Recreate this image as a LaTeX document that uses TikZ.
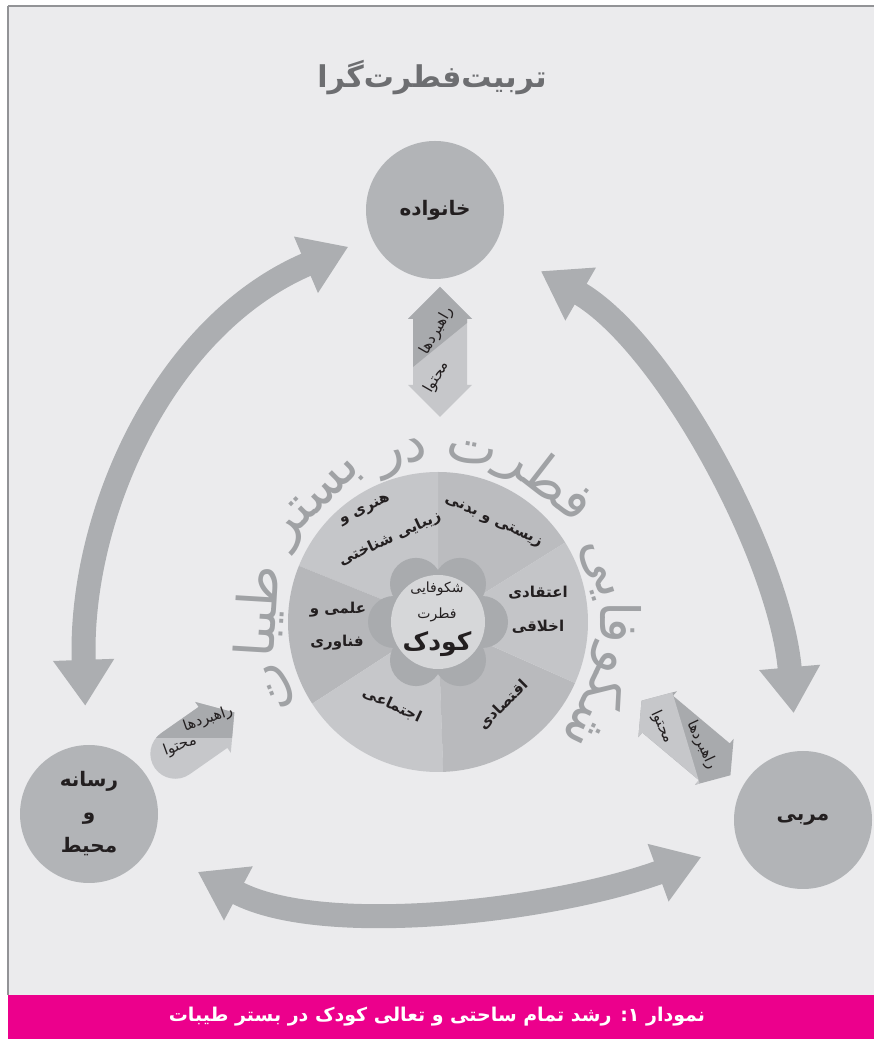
\documentclass[tikz,border=0pt]{standalone}
\usepackage{fontspec}
\newfontfamily\farsi[Script=Arabic]{DejaVu Sans}
\TeXXeTstate=1
\usetikzlibrary{arrows.meta}

\definecolor{bgcol}{HTML}{EBEBED}
\definecolor{framecol}{HTML}{929396}
\definecolor{hubcol}{HTML}{B2B4B7}
\definecolor{arrcol}{HTML}{ACAEB1}
\definecolor{tagdark}{HTML}{A8AAAD}
\definecolor{taglight}{HTML}{C6C7CA}
\definecolor{labcol}{HTML}{231F20}
\definecolor{titlecol}{HTML}{6D6E71}
\definecolor{curvecol}{HTML}{A0A2A5}
\definecolor{pinkcol}{HTML}{EC008C}
\definecolor{petalcol}{HTML}{A9ABAE}
\definecolor{corecol}{HTML}{D6D7D9}
\definecolor{secA}{HTML}{BBBCBF}
\definecolor{secB}{HTML}{C5C6C9}
\definecolor{secC}{HTML}{B6B7BA}
\definecolor{secD}{HTML}{C6C7CA}
\definecolor{secE}{HTML}{B9BABD}
\definecolor{secF}{HTML}{C4C5C8}

\newcommand*{\fatxt}[1]{\beginR #1\endR}
\newcommand*{\arcfont}{\farsi\fontsize{54}{54}\selectfont}
\newcommand*{\wheelr}{150}
\newcommand*{\arcr}{162}
\newbox\chunkbox

\begin{document}
% angles of the pieces of the curved title
\gdef\arcpos{-44}
\foreach \w/\gap [count=\i] in {شکو/0,فا/0,یی/0,فطر/6,ت/0,در/5,بستر/5,طیبا/6,ت/0} {
	\setbox\chunkbox=\hbox{\arcfont\fatxt{\w}}
	\pgfmathsetmacro{\midang}{\arcpos+\gap+0.5*\wd\chunkbox/\arcr*57.2958}
	\pgfmathsetmacro{\nextang}{\arcpos+\gap+\wd\chunkbox/\arcr*57.2958}
	\expandafter\xdef\csname arcang\i\endcsname{\midang}
	\xdef\arcpos{\nextang}
}
\begin{tikzpicture}
[
	x=1pt,y=1pt,
	hub/.style={circle,fill=hubcol,minimum size=138pt,inner sep=0pt,align=center,
		text=labcol,font=\farsi\bfseries\fontsize{20}{33}\selectfont},
	bigarrow/.style={line width=24pt,draw=arrcol,
		arrows={Triangle[width=58pt,length=46pt]-Triangle[width=58pt,length=46pt]}},
	seclabel/.style={inner sep=0pt,text=labcol,font=\farsi\bfseries\fontsize{15}{18}\selectfont},
	arclabel/.style={inner sep=0pt,anchor=base,text=curvecol,font=\arcfont},
	tag/.style={inner sep=0pt,text=labcol,font=\farsi\fontsize{15}{15}\selectfont}
]
	\useasboundingbox (0,0) rectangle (874,1039);

	% background and frame
	\fill[white] (0,0) rectangle (874,1039);
	\fill[bgcol] (8,44) rectangle (874,1033);
	\fill[framecol] (8,1032) rectangle (874,1034);
	\fill[framecol] (7,44) rectangle (9,1033);
	\fill[pinkcol] (8,0) rectangle (874,44);

	% title and caption
	\node[text=titlecol,font=\farsi\bfseries\fontsize{30}{30}\selectfont] (title) at (432,961) {\fatxt{تربیت‌فطرت‌گرا}};
	\node[text=white,font=\farsi\bfseries\fontsize{19}{19}\selectfont] (caption) at (437,22)
		{\fatxt{نمودار ۱: رشد تمام ساحتی و تعالی کودک در بستر طیبات}};

	% the three hubs
	\node[hub] (fam) at (435,829) {\fatxt{خانواده}};
	\node[hub] (media) at (89,225) {\fatxt{رسانه}\\\fatxt{و}\\\fatxt{محیط}};
	\node[hub] (coach) at (803,219) {\fatxt{مربی}};

	% big arrows between hubs
	\draw[bigarrow,shorten <=39pt,shorten >=25pt] (media) to[out=92,in=203] (fam);
	\draw[bigarrow,shorten <=38pt,shorten >=53pt] (coach) to[out=95,in=330,looseness=0.85] (fam);
	\draw[bigarrow,shorten <=54pt,shorten >=39pt] (media) to[out=-28,in=200,looseness=0.85] (coach);

	% wheel
	\coordinate (wc) at (438,417);
	\foreach \a/\b/\c in {32/90/secA,90/158/secB,158/213/secC,213/272/secD,272/336/secE,336/392/secF} {
		\fill[\c] (wc) -- ([shift={(\a:\wheelr)}]wc) arc[start angle=\a,end angle=\b,radius=\wheelr] -- cycle;
	}

	% flower and core
	\fill[petalcol] (wc) circle[radius=50];
	\foreach \a in {0,60,...,300} {
		\fill[petalcol] ([shift={(\a:44)}]wc) circle[radius=26];
	}
	\node[circle,fill=corecol,minimum size=94pt,inner sep=0pt] (core) at (wc) {};
	\node[inner sep=0pt,text=labcol,font=\farsi\fontsize{14}{14}\selectfont] (kid1) at (437,450) {\fatxt{شکوفایی}};
	\node[inner sep=0pt,text=labcol,font=\farsi\fontsize{14}{14}\selectfont] (kid2) at (437,424) {\fatxt{فطرت}};
	\node[inner sep=0pt,text=labcol,font=\farsi\bfseries\fontsize{25}{25}\selectfont] (kid3) at (437,395) {\fatxt{کودک}};

	% sector labels
	\node[seclabel,rotate=-25] (bio) at (493,517) {\fatxt{زیستی و بدنی}};
	\node[seclabel,rotate=25] (art1) at (365,529) {\fatxt{هنری و}};
	\node[seclabel,rotate=25] (art2) at (390,500) {\fatxt{زیبایی شناختی}};
	\node[seclabel] (faith1) at (538,446) {\fatxt{اعتقادی}};
	\node[seclabel] (faith2) at (538,412) {\fatxt{اخلاقی}};
	\node[seclabel,rotate=45] (econ) at (503,334) {\fatxt{اقتصادی}};
	\node[seclabel,rotate=-25] (social) at (392,334) {\fatxt{اجتماعی}};
	\node[seclabel] (sci1) at (338,429) {\fatxt{علمی و}};
	\node[seclabel] (sci2) at (337,396) {\fatxt{فناوری}};

	% curved title round the wheel
	\foreach \w [count=\i] in {شکو,فا,یی,فطر,ت,در,بستر,طیبا,ت} {
		\pgfmathsetmacro{\midang}{\csname arcang\i\endcsname}
		\node[arclabel,rotate=\midang-90] (arcw\i) at ([shift={(\midang:\arcr)}]wc) {\fatxt{\w}};
	}

	% guide arrow, family side
	\begin{scope}[shift={(440,687)}]
		\clip (0,65) -- (32,33) -- (27,33) -- (27,-33) -- (32,-33) -- (0,-65)
			-- (-32,-33) -- (-27,-33) -- (-27,33) -- (-32,33) -- cycle;
		\fill[taglight] (-40,-80) rectangle (40,80);
		\fill[tagdark] (-40,-25.6) -- (40,39.6) -- (40,80) -- (-40,80) -- cycle;
	\end{scope}
	\node[tag,rotate=60] (tagA1) at (437,708) {\fatxt{راهبردها}};
	\node[tag,rotate=60] (tagA2) at (437,662) {\fatxt{محتوا}};

	% guide arrow, media side
	\begin{scope}[shift={(195,299)},rotate=35]
		\clip (-24,25) -- (22,25) -- (22,31) -- (48,0) -- (22,-31) -- (22,-25) -- (-24,-25)
			arc[start angle=270,end angle=90,radius=25] -- cycle;
		\fill[taglight] (-60,-60) rectangle (60,60);
		\fill[tagdark,rotate=-35] (-80,2) rectangle (80,80);
	\end{scope}
	\node[tag,rotate=19] (tagB1) at (208,320) {\fatxt{راهبردها}};
	\node[tag,rotate=20] (tagB2) at (180,293) {\fatxt{محتوا}};

	% guide arrow, coach side
	\begin{scope}[shift={(686,301)},rotate=-40]
		\clip (58,0) -- (37,30) -- (37,24) -- (-37,24) -- (-37,30) -- (-58,0)
			-- (-37,-30) -- (-37,-24) -- (37,-24) -- (37,-30) -- cycle;
		\fill[tagdark] (-70,-70) rectangle (70,70);
		\fill[taglight] (-67,44) -- (67,-44) -- (67,-100) -- (-100,-100) -- (-100,44) -- cycle;
	\end{scope}
	\node[tag,rotate=-65] (tagC1) at (662,312) {\fatxt{محتوا}};
	\node[tag,rotate=-65] (tagC2) at (702,294) {\fatxt{راهبردها}};

\end{tikzpicture}
\end{document}
